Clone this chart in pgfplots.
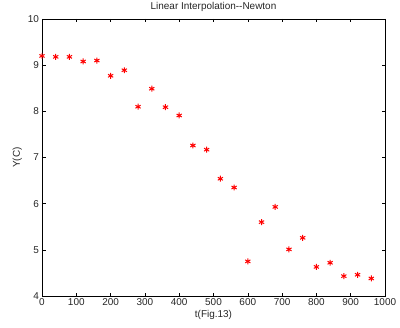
\documentclass[border=0pt]{standalone}
\usepackage{pgfplots}
\pgfplotsset{compat=1.18}
\usepackage{fontspec}
\setmainfont{Liberation Sans}
\usetikzlibrary{calc}
\begin{document}
\begin{tikzpicture}
\begin{axis}[
  scale only axis,
  width=343bp, height=277bp,
  xmin=0, xmax=1000, ymin=4, ymax=10,
  xtick={0,100,...,1000}, ytick={4,5,...,10},
  tick align=inside,
  major tick length=3.5bp,
  every tick/.style={black, line width=0.5pt},
  axis line style={line width=0.7pt},
  /pgf/number format/assume math mode=true,
  /pgf/number format/1000 sep={},
  tick label style={font=\fontsize{10}{11}\selectfont, text=black!85},
  label style={font=\fontsize{10}{12}\selectfont, text=black!85},
  title style={font=\fontsize{10}{12}\selectfont, text=black!85, yshift=-2bp},
  title={Linear Interpolation\mbox{-}\mbox{-}Newton},
  xlabel={t(Fig.13)},
  ylabel={Y(C)},
  xlabel style={yshift=2bp},
  ylabel style={yshift=-1bp},
  xticklabel style={yshift=1bp},
  yticklabel style={xshift=0.5bp},
]
\addplot[only marks, red, mark=asterisk, mark size=3pt, mark options={line width=1pt}] coordinates {
(0,9.20) (40,9.18) (80,9.18) (120,9.08) (160,9.10) (200,8.77) (240,8.89)
(280,8.10) (320,8.49) (360,8.09) (400,7.91) (440,7.26) (480,7.17)
(520,6.54) (560,6.35) (600,4.75) (640,5.60) (680,5.93) (720,5.01)
(760,5.26) (800,4.63) (840,4.72) (880,4.43) (920,4.46) (960,4.38)
};
\end{axis}
\pgfresetboundingbox
\path ($(current axis.south west)+(-42bp,-32bp)$) rectangle ($(current axis.north east)+(15bp,19bp)$);
\end{tikzpicture}
\end{document}
